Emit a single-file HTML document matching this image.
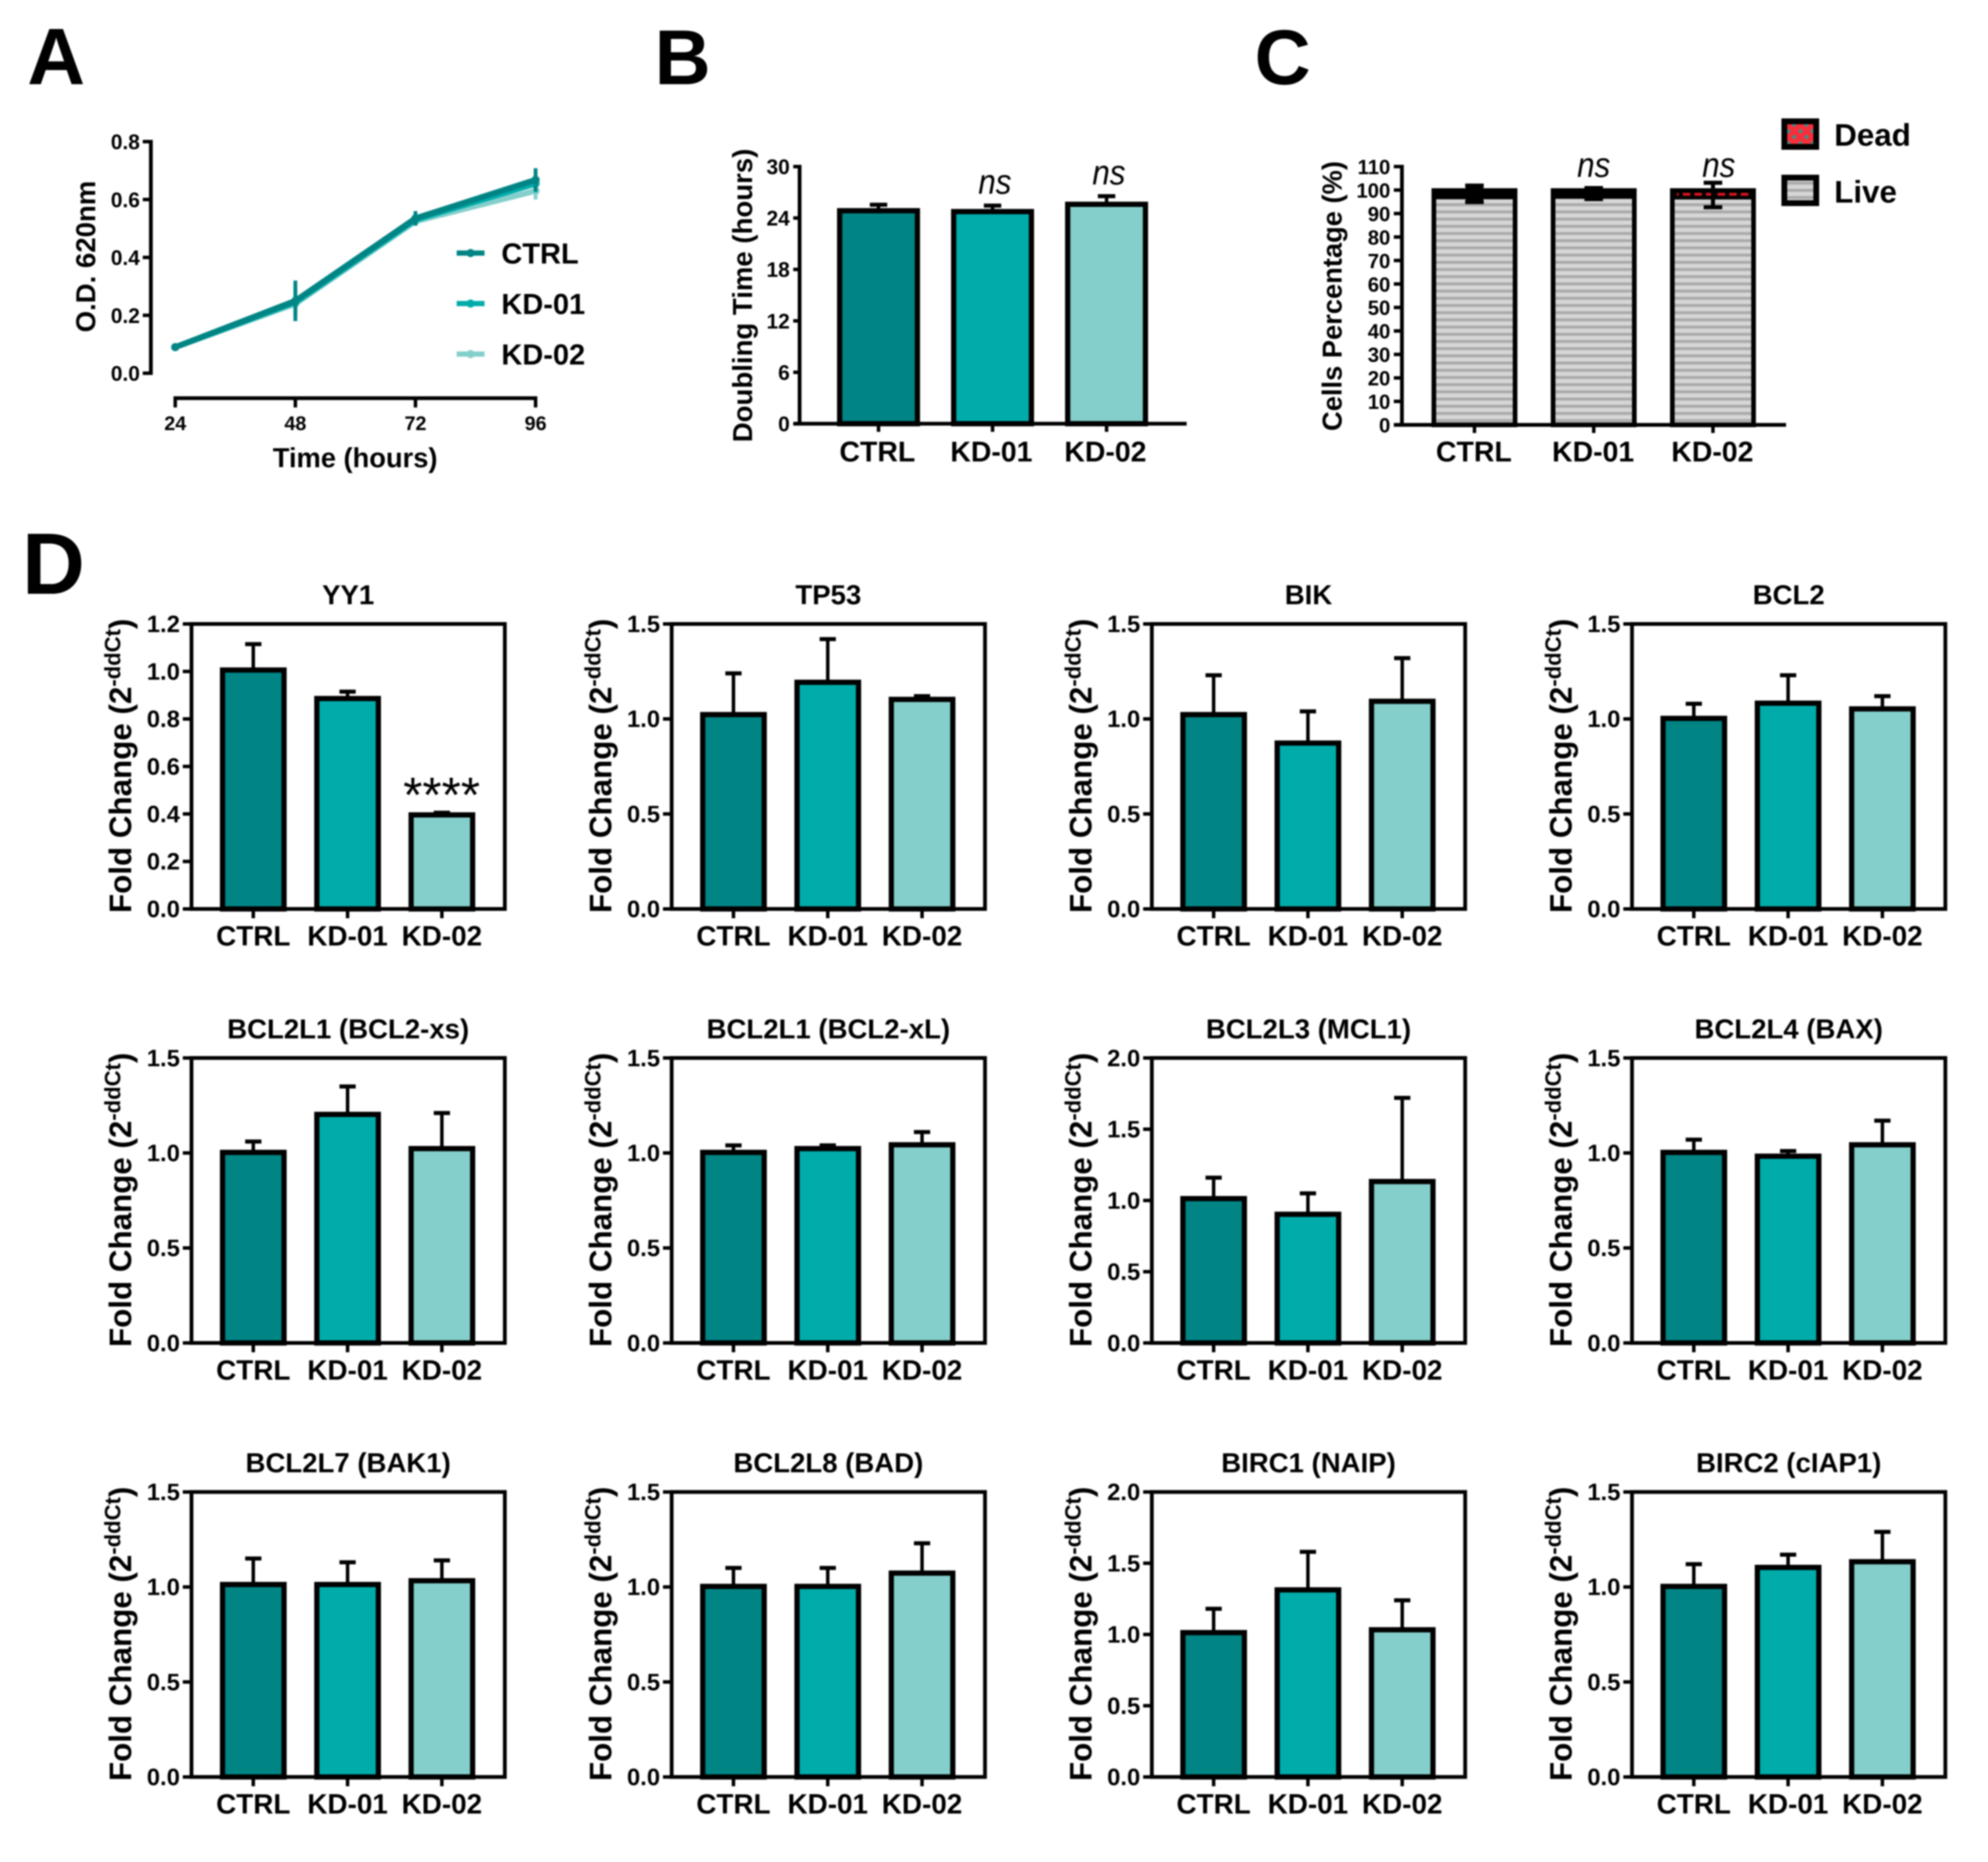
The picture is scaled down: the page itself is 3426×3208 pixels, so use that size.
<!DOCTYPE html>
<html lang="en">
<head>
<meta charset="utf-8">
<title>Cell growth and apoptosis gene expression figure</title>
<style>
html,body{margin:0;padding:0;background:#fff;}
svg{display:block;width:3426px;height:3208px;filter:blur(1.3px);}
text{font-family:"Liberation Sans",sans-serif;fill:#000;}
</style>
</head>
<body>
<svg id="figure" xmlns="http://www.w3.org/2000/svg" width="3426" height="3208" viewBox="0 0 3426 3208">
  <defs>
    <pattern id="liveStripes" patternUnits="userSpaceOnUse" width="20" height="12.4">
      <rect width="20" height="12.4" fill="#d6d6d6"/>
      <rect y="3" width="20" height="5" fill="#a9a9a9"/>
    </pattern>
    <pattern id="deadDots" patternUnits="userSpaceOnUse" width="21" height="21">
      <rect width="21" height="21" fill="#f5303a"/>
      <circle cx="5" cy="5" r="3.4" fill="#3d8f90"/>
      <circle cx="16" cy="16" r="3.4" fill="#3d8f90"/>
    </pattern>
    <pattern id="deadLine" patternUnits="userSpaceOnUse" width="20" height="20">
      <rect width="13" height="20" fill="#d8141e"/>
      <rect x="13" width="7" height="20" fill="#000"/>
    </pattern>
  </defs>
  <rect width="3426" height="3208" fill="#fff"/>
  <g id="plots"></g>
</svg>
<script>
// ---- shared ----
const categories = ['CTRL', 'KD-01', 'KD-02'];
const seriesColors = ['#018484', '#00acaa', '#84cfcc'];

// ---- panel A ----
const timeLabels = ['24', '48', '72', '96'];
const odTickLabels = ['0.0', '0.2', '0.4', '0.6', '0.8'];
const odCtrl = [0.09, 0.25, 0.535, 0.668];
const odKd01 = [0.09, 0.245, 0.53, 0.655];
const odKd02 = [0.09, 0.24, 0.525, 0.63];
const odErrCtrl = [0.005, 0.07, 0.025, 0.04];
const odErrKd01 = [0.005, 0.05, 0.02, 0.03];
const odErrKd02 = [0.005, 0.03, 0.015, 0.03];

// ---- panel B ----
const doublingTickLabels = ['0', '6', '12', '18', '24', '30'];
const doublingMeans = [24.85, 24.75, 25.6];
const doublingUpper = [25.55, 25.45, 26.55];
const doublingSig = ['', 'ns', 'ns'];

// ---- panel C ----
const cellsTickLabels = ['0', '10', '20', '30', '40', '50', '60', '70', '80', '90', '100', '110'];
const liveMeans = [97.1, 97.3, 97.0];
const stackTotals = [99.8, 99.8, 99.8];
const stackErrorCentre = [98.4, 98.5, 97.9];
const stackErrorSpan = [3.5, 2.35, 5.2];
const cellsSig = ['', 'ns', 'ns'];

// ---- panel D ----
const geneTitles = ['YY1', 'TP53', 'BIK', 'BCL2', 'BCL2L1 (BCL2-xs)', 'BCL2L1 (BCL2-xL)', 'BCL2L3 (MCL1)', 'BCL2L4 (BAX)', 'BCL2L7 (BAK1)', 'BCL2L8 (BAD)', 'BIRC1 (NAIP)', 'BIRC2 (cIAP1)'];
const geneAxisMax = [1.2, 1.5, 1.5, 1.5, 1.5, 1.5, 2.0, 1.5, 1.5, 1.5, 2.0, 1.5];
const ctrlMeans = [1.006, 1.023, 1.023, 1.003, 1.003, 1.003, 1.013, 1.003, 1.013, 1.003, 1.013, 1.003];
const kd01Means = [0.886, 1.193, 0.873, 1.083, 1.203, 1.023, 0.903, 0.983, 1.013, 1.003, 1.313, 1.103];
const kd02Means = [0.396, 1.103, 1.093, 1.053, 1.023, 1.043, 1.133, 1.043, 1.033, 1.073, 1.033, 1.133];
const ctrlUpper = [1.115, 1.24, 1.23, 1.08, 1.06, 1.04, 1.16, 1.07, 1.15, 1.10, 1.18, 1.12];
const kd01Upper = [0.915, 1.42, 1.04, 1.23, 1.35, 1.04, 1.05, 1.01, 1.13, 1.10, 1.58, 1.17];
const kd02Upper = [0.405, 1.12, 1.32, 1.12, 1.21, 1.11, 1.72, 1.17, 1.14, 1.23, 1.24, 1.29];
const tickLabels12 = ['0.0', '0.2', '0.4', '0.6', '0.8', '1.0', '1.2'];
const tickLabels15 = ['0.0', '0.5', '1.0', '1.5'];
const tickLabels20 = ['0.0', '0.5', '1.0', '1.5', '2.0'];

// ---- helpers ----
const SVGNS = 'http://www.w3.org/2000/svg';
const root = document.getElementById('plots');

function make(parent, tag, attrs, name) {
  const el = document.createElementNS(SVGNS, tag);
  for (const k in attrs) el.setAttribute(k, attrs[k]);
  
  
  parent.appendChild(el);
  return el;
}
function label(parent, str, x, y, size, anchor, name, extra) {
  const a = Object.assign({x: x, y: y, 'font-size': size, 'font-weight': 'bold', 'text-anchor': anchor}, extra || {});
  const t = make(parent, 'text', a, name);
  t.textContent = str;
  return t;
}
function seg(parent, x1, y1, x2, y2, w, name, color) {
  return make(parent, 'line', {x1: x1, y1: y1, x2: x2, y2: y2, stroke: color || '#000', 'stroke-width': w}, name);
}
function linear(d0, d1, r0, r1) {
  return function (v) { return r0 + (v - d0) / (d1 - d0) * (r1 - r0); };
}
function panelLetter(str, x, y, size) {
  label(root, str, x, y, size, 'start', 'panel-letter-' + str.toLowerCase());
}
function rotatedTitle(parent, str, cx, cy, size, name) {
  const t = label(parent, str, cx, cy, size, 'middle', name, {transform: 'rotate(-90 ' + cx + ' ' + cy + ')'});
  return t;
}

// ---- panel A ----
(function () {
  const g = make(root, 'g', {}, 'panel-a-growth-curve');
  const xs = linear(24, 96, 302, 923);
  const ys = linear(0, 0.8, 643, 244);
  seg(g, 260, 241, 260, 646, 6.5, 'y-axis');
  odTickLabels.forEach(function (lab) {
    const v = parseFloat(lab);
    seg(g, 246, ys(v), 260, ys(v), 6, 'y-tick-' + lab);
    label(g, lab, 241, ys(v) + 13, 36, 'end', 'y-tick-label-' + lab);
  });
  seg(g, 299, 686, 926, 686, 6.5, 'x-axis');
  timeLabels.forEach(function (lab) {
    const x = xs(parseFloat(lab));
    seg(g, x, 686, x, 702, 6, 'x-tick-' + lab);
    label(g, lab, x, 741, 34, 'middle', 'x-tick-label-' + lab);
  });
  label(g, 'Time (hours)', 612, 805, 47, 'middle', 'x-axis-title');
  rotatedTitle(g, 'O.D. 620nm', 164, 442, 47.5, 'y-axis-title');

  const series = [
    {name: 'kd-02', vals: odKd02, errs: odErrKd02, color: seriesColors[2]},
    {name: 'kd-01', vals: odKd01, errs: odErrKd01, color: seriesColors[1]},
    {name: 'ctrl', vals: odCtrl, errs: odErrCtrl, color: seriesColors[0]}
  ];
  series.forEach(function (s) {
    const pts = s.vals.map(function (v, i) { return xs(parseFloat(timeLabels[i])) + ',' + ys(v); }).join(' ');
    make(g, 'polyline', {points: pts, fill: 'none', stroke: s.color, 'stroke-width': 10, 'stroke-linejoin': 'round'}, 'line-' + s.name);
    s.vals.forEach(function (v, i) {
      const x = xs(parseFloat(timeLabels[i]));
      seg(g, x, ys(v - s.errs[i]), x, ys(v + s.errs[i]), 6.5, 'error-bar-' + s.name + '-' + timeLabels[i], s.color);
      make(g, 'circle', {cx: x, cy: ys(v), r: 7, fill: s.color}, 'point-' + s.name + '-' + timeLabels[i]);
    });
  });
  categories.forEach(function (c, i) {
    const y = 436 + i * 87;
    const col = seriesColors[i];
    seg(g, 787, y, 835, y, 9, 'legend-line-' + c.toLowerCase(), col);
    make(g, 'circle', {cx: 811, cy: y, r: 7, fill: col}, 'legend-marker-' + c.toLowerCase());
    label(g, c, 864, y + 18, 50, 'start', 'legend-label-' + c.toLowerCase());
  });
})();

// ---- panel B ----
(function () {
  const g = make(root, 'g', {}, 'panel-b-doubling-time');
  const ys = linear(0, 30, 730, 287);
  const barX = function (i) { return 1514 + i * 196.5; };
  const halfBar = 67;
  seg(g, 1378, 284, 1378, 733, 6.5, 'y-axis');
  seg(g, 1367, 730, 2045, 730, 6.5, 'x-axis');
  doublingTickLabels.forEach(function (lab) {
    const y = ys(parseFloat(lab));
    seg(g, 1367, y, 1378, y, 6, 'y-tick-' + lab);
    label(g, lab, 1361, y + 13, 36, 'end', 'y-tick-label-' + lab);
  });
  rotatedTitle(g, 'Doubling Time (hours)', 1296, 509, 47.5, 'y-axis-title');
  categories.forEach(function (c, i) {
    const x = barX(i);
    const n = c.toLowerCase();
    seg(g, x, ys(doublingUpper[i]), x, ys(doublingMeans[i]), 6, 'error-stem-' + n);
    seg(g, x - 15, ys(doublingUpper[i]), x + 15, ys(doublingUpper[i]), 7, 'error-cap-' + n);
    make(g, 'rect', {x: x - halfBar, y: ys(doublingMeans[i]), width: halfBar * 2, height: 730 - ys(doublingMeans[i]), fill: seriesColors[i], stroke: '#000', 'stroke-width': 9}, 'bar-' + n);
    seg(g, x, 730, x, 744, 6, 'x-tick-' + n);
    label(g, c, x - 2, 795, 49, 'middle', 'x-tick-label-' + n);
    if (doublingSig[i]) {
      label(g, doublingSig[i], x + 4, ys(doublingUpper[i]) - 20, 60, 'middle', 'significance-' + n, {'font-weight': 'normal', 'font-style': 'italic', textLength: 57, lengthAdjust: 'spacingAndGlyphs'});
    }
  });
})();

// ---- panel C ----
(function () {
  const g = make(root, 'g', {}, 'panel-c-cell-viability');
  const ys = linear(0, 110, 732, 287);
  const barX = function (i) { return 2541 + i * 205.5; };
  const halfBar = 70;
  const stemWidths = {ctrl: 30, 'kd-01': 22, 'kd-02': 7};
  seg(g, 2416, 284, 2416, 735, 6.5, 'y-axis');
  seg(g, 2402, 732, 3078, 732, 6.5, 'x-axis');
  cellsTickLabels.forEach(function (lab) {
    const y = ys(parseFloat(lab));
    seg(g, 2402, y, 2416, y, 6, 'y-tick-' + lab);
    label(g, lab, 2396, y + 13, 35, 'end', 'y-tick-label-' + lab);
  });
  rotatedTitle(g, 'Cells Percentage (%)', 2312, 510, 47, 'y-axis-title');
  categories.forEach(function (c, i) {
    const x = barX(i);
    const n = c.toLowerCase();
    make(g, 'rect', {x: x - halfBar, y: ys(liveMeans[i]), width: halfBar * 2, height: 732 - ys(liveMeans[i]), fill: 'url(#liveStripes)', stroke: '#000', 'stroke-width': 8}, 'bar-live-' + n);
    make(g, 'rect', {x: x - halfBar, y: ys(stackTotals[i]), width: halfBar * 2, height: ys(liveMeans[i]) - ys(stackTotals[i]), fill: '#000', stroke: '#000', 'stroke-width': 8}, 'bar-dead-' + n);
    if (i === 2) {
      make(g, 'rect', {x: x - halfBar + 8, y: ys(98.2) - 2.5, width: halfBar * 2 - 16, height: 5, fill: 'url(#deadLine)'}, 'dead-fill-' + n);
    }
    seg(g, x, ys(stackErrorCentre[i] - stackErrorSpan[i]), x, ys(stackErrorCentre[i] + stackErrorSpan[i]), stemWidths[n], 'error-stem-' + n);
    seg(g, x - 16, ys(stackErrorCentre[i] + stackErrorSpan[i]), x + 16, ys(stackErrorCentre[i] + stackErrorSpan[i]), 7, 'error-cap-top-' + n);
    seg(g, x - 16, ys(stackErrorCentre[i] - stackErrorSpan[i]), x + 16, ys(stackErrorCentre[i] - stackErrorSpan[i]), 7, 'error-cap-bottom-' + n);
    seg(g, x, 732, x, 746, 6, 'x-tick-' + n);
    label(g, c, x - 1, 795, 49, 'middle', 'x-tick-label-' + n);
    if (cellsSig[i]) {
      label(g, cellsSig[i], x + (i === 1 ? 0 : 10), 305, 60, 'middle', 'significance-' + n, {'font-weight': 'normal', 'font-style': 'italic', textLength: 57, lengthAdjust: 'spacingAndGlyphs'});
    }
  });
  make(g, 'rect', {x: 3075, y: 209, width: 55, height: 44, fill: 'url(#deadDots)', stroke: '#000', 'stroke-width': 10}, 'legend-swatch-dead');
  label(g, 'Dead', 3161, 251, 54, 'start', 'legend-label-dead');
  make(g, 'rect', {x: 3075, y: 306, width: 55, height: 44, fill: 'url(#liveStripes)', stroke: '#000', 'stroke-width': 10}, 'legend-swatch-live');
  label(g, 'Live', 3161, 349, 54, 'start', 'legend-label-live');
})();

// ---- panel D ----
function ticksForMax(max) {
  if (max === 1.2) return tickLabels12;
  if (max === 2.0) return tickLabels20;
  return tickLabels15;
}
geneTitles.forEach(function (title, idx) {
  const col = idx % 4;
  const row = Math.floor(idx / 4);
  const left = 330 + col * 827.5;
  const top = 1075 + row * 747.75;
  const right = left + 540;
  const bottom = top + 491;
  const ys = linear(0, geneAxisMax[idx], bottom, top);
  const g = make(root, 'g', {}, 'gene-panel-' + idx);
  const means = [ctrlMeans[idx], kd01Means[idx], kd02Means[idx]];
  const uppers = [ctrlUpper[idx], kd01Upper[idx], kd02Upper[idx]];

  label(g, title, left + 270, top - 34, 47.5, 'middle', 'gene-title');
  make(g, 'rect', {x: left, y: top, width: right - left, height: bottom - top, fill: 'none', stroke: '#000', 'stroke-width': 6.5}, 'plot-frame');
  ticksForMax(geneAxisMax[idx]).forEach(function (lab) {
    const y = ys(parseFloat(lab));
    seg(g, left - 15, y, left, y, 6, 'y-tick-' + lab);
    label(g, lab, left - 20, y + 14, 41, 'end', 'y-tick-label-' + lab);
  });
  categories.forEach(function (c, i) {
    const n = c.toLowerCase();
    const x = left + 106.5 + i * 162.5;
    seg(g, x, ys(uppers[i]), x, ys(means[i]), 6, 'error-stem-' + n);
    seg(g, x - 14, ys(uppers[i]), x + 14, ys(uppers[i]), 7, 'error-cap-' + n);
    make(g, 'rect', {x: x - 53, y: ys(means[i]), width: 106, height: bottom - ys(means[i]), fill: seriesColors[i], stroke: '#000', 'stroke-width': 9}, 'bar-' + n);
    seg(g, x, bottom, x, bottom + 16, 6, 'x-tick-' + n);
    label(g, c, x, bottom + 63, 48, 'middle', 'x-tick-label-' + n);
  });

  const tx = left - 104;
  const ty = bottom + 7;
  const t = make(g, 'text', {x: tx, y: ty, 'font-size': 54, 'font-weight': 'bold', 'text-anchor': 'start', transform: 'rotate(-90 ' + tx + ' ' + ty + ')'}, 'y-axis-title');
  const main = make(t, 'tspan', {}, 'y-axis-title-main');
  main.textContent = 'Fold Change (2';
  const sup = make(t, 'tspan', {dy: -19, 'font-size': 38}, 'y-axis-title-exponent');
  sup.textContent = '-ddCt';
  const close = make(t, 'tspan', {dy: 19}, 'y-axis-title-close');
  close.textContent = ')';

  if (title === 'YY1') {
    label(g, '****', left + 431, bottom - 167, 85, 'middle', 'significance-kd-02', {'font-weight': 'normal', fill: '#222'});
  }
});

panelLetter('A', 47, 145, 138);
panelLetter('B', 1128, 145, 134);
panelLetter('C', 2162, 145, 134);
panelLetter('D', 38, 1023, 150);
</script>
</body>
</html>
